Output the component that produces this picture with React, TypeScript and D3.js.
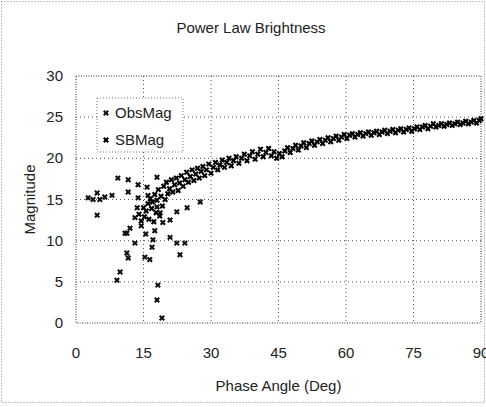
import React from "react";
import * as d3 from "d3";

const TITLE = "Power Law Brightness";
const X_LABEL = "Phase Angle (Deg)";
const Y_LABEL = "Magnitude";
const SERIES_NAMES = ["ObsMag", "SBMag"];
const X_TICKS = [0, 15, 30, 45, 60, 75, 90];
const Y_TICKS = [0, 5, 10, 15, 20, 25, 30];

// [phase angle (deg), magnitude]
const obsMag: [number, number][] = [
  [2.7, 15.2], [3.8, 15.0], [4.7, 15.8], [5.3, 15.0], [6.4, 15.3], [8, 15.5], [4.7, 13.1],
  [9.3, 17.6], [11.6, 17.4], [13.8, 16.8], [11.6, 15.9], [13.8, 15.2], [18, 17.7], [16, 15.5],
  [13.6, 14], [13.1, 12.8], [12, 11.5], [10.9, 10.9], [13.1, 9.7], [11.3, 8.5], [11.6, 7.9],
  [15.3, 8], [16.4, 7.7], [9.8, 6.2], [9.1, 5.2], [18.2, 4.6], [18, 2.8], [19.1, 0.6],
  [20.9, 10.4], [22.4, 9.7], [24.2, 9.7], [23.1, 8.3], [17.1, 10.1], [16.9, 9.2], [20.9, 12.5],
  [22.4, 13.5], [24.7, 14], [27.6, 14.7], [18.7, 13.4], [18, 14.1], [19.3, 12.2], [15.8, 16.5],
  [14.5, 11.8], [15.5, 10.8], [17.5, 11.2], [11.3, 10.9],
];

const sbMag: [number, number][] = [
  [14.0, 13.2], [14.5, 12.4], [15.0, 14.0], [15.2, 12.9], [15.6, 13.6], [16.0, 14.5], [16.2, 12.6],
  [16.5, 15.1], [16.8, 13.9], [17.0, 14.7], [17.3, 12.3], [17.5, 15.6], [17.8, 13.4], [18.0, 14.9],
  [18.3, 16.2], [18.6, 13.0], [18.9, 15.4], [19.2, 14.2], [19.5, 16.6], [19.8, 15.0], [20.1, 17.1],
  [20.4, 15.7], [20.8, 16.3], [21.2, 17.4], [21.5, 15.9], [21.9, 16.8], [22.3, 17.6], [22.7, 16.1],
  [23.0, 17.0], [23.4, 17.9], [23.8, 16.6], [24.2, 17.4], [24.6, 18.3], [25.0, 17.1], [25.4, 17.8],
  [25.8, 18.6], [26.2, 17.3], [26.6, 18.1], [27.0, 18.8], [27.4, 17.6], [27.8, 18.4], [28.2, 19.0],
  [28.6, 17.9], [29.0, 18.6], [29.5, 19.3], [30.0, 18.2], [30.5, 18.9], [31.0, 19.5], [31.5, 18.6],
  [32.0, 19.2], [32.5, 19.8], [33.0, 18.9], [33.5, 19.5], [34.0, 20.0], [34.5, 19.1], [35.0, 19.7],
  [35.6, 20.2], [36.2, 19.4], [36.8, 20.0], [37.4, 20.5], [38.0, 19.7], [38.6, 20.3], [39.2, 20.8],
  [39.8, 19.9], [40.4, 20.5], [41.0, 21.1], [41.6, 20.2], [42.2, 20.7], [42.8, 21.2], [43.4, 20.3],
  [44.0, 20.8], [44.6, 20.0], [45.2, 20.6], [45.8, 20.2], [46.4, 20.9], [47.0, 21.3], [47.6, 20.7],
  [48.2, 21.2], [48.8, 21.6], [49.4, 21.0], [50.0, 21.5], [50.6, 21.9], [51.2, 21.3], [51.8, 21.8],
  [52.4, 22.1], [53.0, 21.6], [53.6, 22.0], [54.2, 22.3], [54.8, 21.8], [55.4, 22.2], [56.0, 22.5],
  [56.6, 22.0], [57.2, 22.4], [57.8, 22.7], [58.4, 22.2], [59.0, 22.6], [59.6, 22.9], [60.2, 22.4],
  [60.8, 22.8], [61.4, 23.0], [62.0, 22.6], [62.6, 22.9], [63.2, 23.1], [63.8, 22.7], [64.4, 23.0],
  [65.0, 23.2], [65.6, 22.8], [66.2, 23.1], [66.8, 23.3], [67.4, 22.9], [68.0, 23.2], [68.6, 23.4],
  [69.2, 23.0], [69.8, 23.3], [70.4, 23.5], [71.0, 23.1], [71.6, 23.4], [72.2, 23.6], [72.8, 23.2],
  [73.4, 23.5], [74.0, 23.7], [74.6, 23.3], [75.2, 23.6], [75.8, 23.8], [76.4, 23.5], [77.0, 23.8],
  [77.6, 24.0], [78.2, 23.6], [78.8, 23.9], [79.4, 24.2], [80.0, 23.8], [80.6, 24.0], [81.2, 24.2],
  [81.8, 23.9], [82.4, 24.1], [83.0, 24.3], [83.6, 24.0], [84.2, 24.2], [84.8, 24.4], [85.4, 24.1],
  [86.0, 24.3], [86.6, 24.5], [87.2, 24.2], [87.8, 24.4], [88.4, 24.6], [89.0, 24.3], [89.6, 24.6],
  [90.0, 24.8],
];

const W = 486;
const H = 407;
const M = { left: 76, right: 5, top: 76, bottom: 84 };
const FONT = "'Liberation Sans', Arial, sans-serif";

export default function App() {
  const x = d3.scaleLinear().domain([0, 90]).range([M.left, W - M.right]);
  const y = d3.scaleLinear().domain([0, 30]).range([H - M.bottom, M.top]);
  const sym = d3.symbol().type(d3.symbolCross).size(22)() as string;
  const series = [
    { name: SERIES_NAMES[0], data: obsMag, color: "#111" },
    { name: SERIES_NAMES[1], data: sbMag, color: "#000" },
  ];
  return (
    <svg
      width={W}
      height={H}
      style={{ position: "absolute", left: 0, top: 0, background: "#fff" }}
      fontFamily={FONT}
    >
      <rect x={1.5} y={1.5} width={W - 3} height={H - 6} fill="none" stroke="#888" strokeDasharray="1,2" />
      <text x={251} y={33} textAnchor="middle" fontSize={15} fill="#222">{TITLE}</text>
      {/* grid */}
      {X_TICKS.slice(1, -1).map((t) => (
        <line key={"gx" + t} x1={x(t)} x2={x(t)} y1={y(30)} y2={y(0)} stroke="#555" strokeDasharray="1,3" />
      ))}
      {Y_TICKS.slice(1, -1).map((t) => (
        <line key={"gy" + t} x1={x(0)} x2={x(90)} y1={y(t)} y2={y(t)} stroke="#555" strokeDasharray="1,3" />
      ))}
      <rect x={x(0)} y={y(30)} width={x(90) - x(0)} height={y(0) - y(30)} fill="none" stroke="#333" strokeDasharray="1,1.5" />
      {/* ticks labels */}
      {X_TICKS.map((t) => (
        <text key={"xt" + t} x={x(t)} y={358} textAnchor="middle" fontSize={15} fill="#222">{t}</text>
      ))}
      {Y_TICKS.map((t) => (
        <text key={"yt" + t} x={63} y={y(t) + 5} textAnchor="end" fontSize={15} fill="#222">{t}</text>
      ))}
      <text x={(x(0) + x(90)) / 2} y={391} textAnchor="middle" fontSize={15} fill="#222">{X_LABEL}</text>
      <text transform={`translate(35,${(y(0) + y(30)) / 2}) rotate(-90)`} textAnchor="middle" fontSize={15} fill="#222">{Y_LABEL}</text>
      {/* points */}
      {series.map((s) => (
        <g key={s.name}>
          {s.data.map((d, i) => (
            <path key={i} d={sym} transform={`translate(${x(d[0])},${y(d[1])}) rotate(45)`} fill={s.color} />
          ))}
        </g>
      ))}
      {/* legend */}
      <rect x={97} y={98} width={86} height={54} fill="#fff" stroke="#777" strokeDasharray="1,2" />
      {series.map((s, i) => (
        <g key={"lg" + s.name} transform={`translate(106,${113 + i * 27})`}>
          <path d={sym} transform="rotate(45)" fill={s.color} />
          <text x={9} y={5} fontSize={15} fill="#222">{s.name}</text>
        </g>
      ))}
    </svg>
  );
}
